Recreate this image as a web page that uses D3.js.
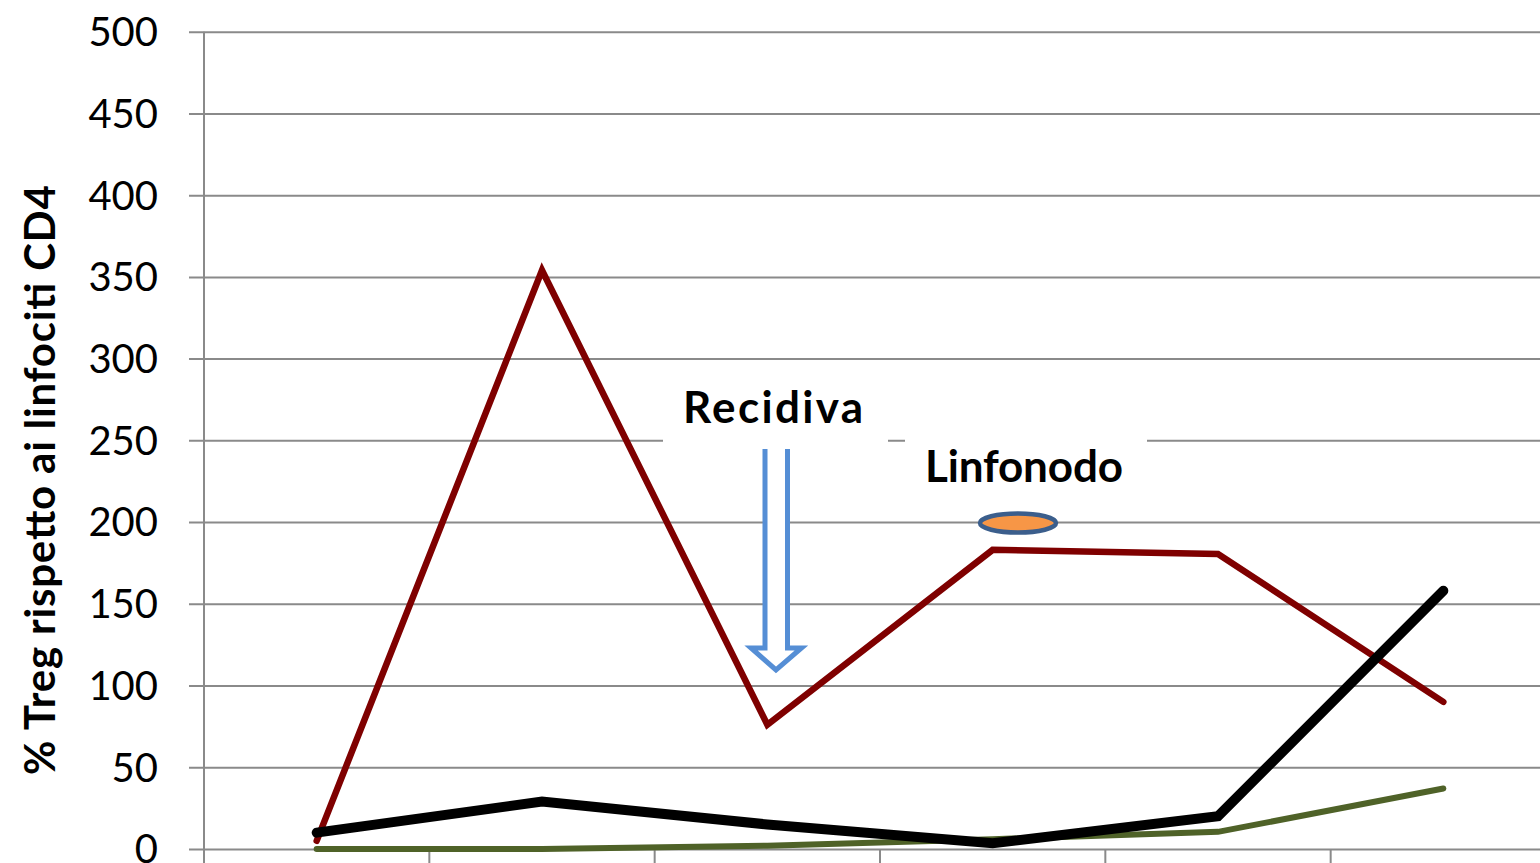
<!DOCTYPE html>
<html>
<head>
<meta charset="utf-8">
<script src="https://cdn.jsdelivr.net/npm/d3@7"></script>
<style>
  html, body { margin: 0; padding: 0; background: #fff; }
  svg { display: block; }
</style>
</head>
<body>
<svg id="chart" width="1540" height="863"></svg>
<script>
// Time points (x categories) and the three series
const categories = ["T1", "T2", "T3", "T4", "T5", "T6"];
const seriesRed   = [5, 354, 76, 183, 180.5, 90];
const seriesBlack = [10, 29, 15, 3.5, 20, 158];
const seriesGreen = [0, 0, 2, 6, 10.5, 37];
const yTicks = [0, 50, 100, 150, 200, 250, 300, 350, 400, 450, 500];
const yTitle = "% Treg rispetto ai linfociti CD4";

const svg = d3.select("#chart");
const gridColor = "#8a8a8a";
const font = "Lato, 'Open Sans', sans-serif";

const x = d3.scaleBand().domain(categories).range([204, 1556]);
const y = d3.scaleLinear().domain([0, 500]).range([849, 31.7]);
const cx = c => x(c) + x.bandwidth() / 2;

// Horizontal gridlines with short ticks to the left of the axis
const yAxis = d3.axisLeft(y).tickValues(yTicks).tickSize(-(1556 - 204)).tickPadding(0).tickFormat("");
const gy = svg.append("g").attr("transform", "translate(204,0)").call(yAxis);
gy.select(".domain").remove();
gy.selectAll(".tick line")
  .attr("x1", -15)
  .attr("stroke", gridColor).attr("stroke-width", 2);

// Tick labels
svg.append("g").selectAll("text").data(yTicks).join("text")
  .attr("x", 158).attr("y", d => y(d))
  .attr("dy", "0.36em")
  .attr("text-anchor", "end")
  .attr("font-family", font).attr("font-size", 40)
  .attr("fill", "#000")
  .text(d => d);

// Vertical axis line
svg.append("line")
  .attr("x1", 204).attr("x2", 204).attr("y1", y(500)).attr("y2", 863)
  .attr("stroke", gridColor).attr("stroke-width", 2);

// Category boundary ticks under the baseline
svg.append("g").selectAll("line").data(categories.slice(1)).join("line")
  .attr("x1", d => x(d)).attr("x2", d => x(d))
  .attr("y1", y(0)).attr("y2", 863)
  .attr("stroke", gridColor).attr("stroke-width", 2);

// Axis title
svg.append("text")
  .attr("transform", "translate(55,480) rotate(-90)")
  .attr("text-anchor", "middle")
  .attr("font-family", font).attr("font-weight", "bold").attr("font-size", 42)
  .attr("textLength", 590)
  .attr("fill", "#000")
  .text(yTitle);

// Annotation text boxes (white background hides the gridline)
const notes = [
  { text: "Recidiva",  box: [663, 372, 225, 76], cx: 773,  base: 423, len: 180 },
  { text: "Linfonodo", box: [905, 434, 242, 66], cx: 1024, base: 482, len: 198 }
];
notes.forEach(n => {
  svg.append("rect")
    .attr("x", n.box[0]).attr("y", n.box[1])
    .attr("width", n.box[2]).attr("height", n.box[3])
    .attr("fill", "#fff");
  svg.append("text")
    .attr("x", n.cx).attr("y", n.base)
    .attr("text-anchor", "middle")
    .attr("font-family", font).attr("font-weight", "bold").attr("font-size", 44)
    .attr("textLength", n.len)
    .attr("fill", "#000")
    .text(n.text);
});

// Series lines
const line = d3.line().x((d, i) => cx(categories[i])).y(d => y(d));
const series = [
  { values: seriesGreen, color: "#4f6228", width: 6 },
  { values: seriesRed,   color: "#7f0000", width: 6.5 },
  { values: seriesBlack, color: "#000000", width: 10 }
];
series.forEach(s => {
  svg.append("path")
    .datum(s.values)
    .attr("d", line)
    .attr("fill", "none")
    .attr("stroke", s.color)
    .attr("stroke-width", s.width)
    .attr("stroke-linecap", "round")
    .attr("stroke-linejoin", "miter");
});

// Hollow down arrow marking the relapse
svg.append("path")
  .attr("d", "M765,449 L765,648 L751,648 L776,670 L801.5,648 L787.5,648 L787.5,449")
  .attr("fill", "#fff")
  .attr("stroke", "#558ed5")
  .attr("stroke-width", 5)
  .attr("stroke-linejoin", "miter");

// Lymph node marker
svg.append("ellipse")
  .attr("cx", 1018).attr("cy", 523)
  .attr("rx", 38).attr("ry", 9.5)
  .attr("fill", "#f79646")
  .attr("stroke", "#3b5e8c")
  .attr("stroke-width", 4.5);
</script>
</body>
</html>
